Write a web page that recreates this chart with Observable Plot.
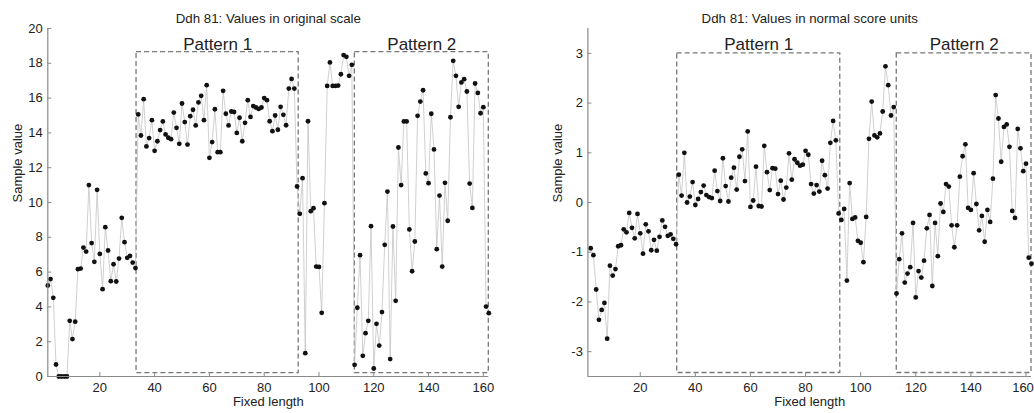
<!DOCTYPE html>
<html>
<head>
<meta charset="utf-8">
<script src="https://cdn.jsdelivr.net/npm/d3@7"></script>
<script src="https://cdn.jsdelivr.net/npm/@observablehq/plot@0.6"></script>
<style>
  body { margin: 0; background: #fff; }
  #wrap { display: flex; width: 1034px; height: 413px; }
  #wrap svg { font-family: "Liberation Sans", Arial, sans-serif; }
</style>
</head>
<body>
<div id="wrap"></div>
<script>
// ---- data ----
const originalValues = [
  5.23, 5.6, 4.52, 0.69, 0, 0, 0, 0, 3.2, 2.15,
  3.15, 6.17, 6.2, 7.41, 7.18, 11.0, 7.67, 6.59, 10.73, 7.05,
  5.02, 8.58, 7.24, 5.48, 6.45, 5.46, 6.78, 9.12, 7.72, 6.82,
  6.93, 6.55, 6.23, 15.06, 13.85, 15.94, 13.22, 13.7, 14.73, 12.97,
  13.52, 14.16, 14.66, 13.91, 13.72, 13.64, 15.17, 14.29, 13.37, 15.69,
  14.62, 13.33, 14.96, 15.33, 14.43, 15.75, 16.13, 14.73, 16.74, 12.57,
  13.47, 15.36, 12.89, 12.89, 16.42, 15.1, 14.43, 15.23, 15.2, 14.0,
  14.87, 13.52, 14.58, 15.88, 14.92, 15.54, 15.46, 15.38, 15.46, 16.0,
  15.88, 14.67, 14.1, 15.0, 14.18, 15.5, 15.04, 14.44, 16.55, 17.1,
  16.55, 10.92, 9.35, 11.4, 1.34, 14.67, 9.5, 9.67, 6.32, 6.3,
  3.66, 9.96, 16.7, 18.05, 16.7, 16.7, 16.72, 17.37, 18.47, 18.37,
  17.28, 17.91, 0.67, 3.95, 6.97, 1.19, 2.49, 3.2, 8.64, 0.46,
  3.03, 1.78, 3.7, 7.57, 10.63, 1.0, 8.62, 4.35, 13.16, 11.0,
  14.66, 14.66, 8.45, 6.05, 7.76, 14.98, 15.8, 16.45, 11.67, 11.11,
  15.1, 13.05, 7.32, 10.4, 6.32, 11.13, 8.95, 14.9, 18.14, 17.28,
  15.5, 16.9, 17.09, 16.38, 11.09, 9.69, 16.84, 16.3, 15.13, 15.48,
  4.02, 3.64
];
const originalStart = 1;

const normalScores = [
  -0.92, -1.06, -1.75, -2.36, -2.16, -2.02, -2.74, -1.27, -1.47, -1.34,
  -0.88, -0.86, -0.54, -0.6, -0.21, -0.51, -0.72, -0.23, -0.62, -1.03,
  -0.44, -0.58, -0.96, -0.75, -0.97, -0.69, -0.36, -0.49, -0.67, -0.64,
  -0.73, -0.84, 0.56, 0.14, 1.0, 0.0, 0.12, 0.41, -0.05, 0.07,
  0.21, 0.34, 0.15, 0.11, 0.09, 0.64, 0.23, 0.03, 0.89, 0.33,
  0.02, 0.5, 0.7, 0.26, 0.92, 1.07, 0.43, 1.43, -0.09, 0.04,
  0.72, -0.07, -0.08, 1.14, 0.61, 0.25, 0.69, 0.68, 0.17, 0.44,
  0.06, 0.3, 0.99,
  0.46, 0.87, 0.80, 0.74, 0.76, 1.04, 0.96, 0.37, 0.18, 0.35,
  0.22, 0.84, 0.55, 0.28, 1.2, 1.64, 1.25, -0.22, -0.35, -0.13,
  -1.57, 0.39, -0.33, -0.30, -0.77, -0.81, -1.2, -0.29, 1.28, 2.03,
  1.35, 1.31, 1.39, 1.83, 2.74, 2.36, 1.75, 1.92, -1.83, -1.14,
  -0.62, -1.61, -1.43, -1.3, -0.41, -1.91, -1.38, -1.51, -1.17, -0.52,
  -0.25, -1.68, -0.41, -1.08, -0.02, -0.19, 0.37, 0.32, -0.46, -0.9,
  -0.46, 0.52, 0.93, 1.17, -0.11, -0.15, 0.59, -0.03, -0.56, -0.27,
  -0.79, -0.15, -0.39, 0.48, 2.16, 1.69, 0.82, 1.52, 1.57, 1.12,
  -0.17, -0.31, 1.48, 1.09, 0.63, 0.78, -1.11, -1.23
];
const normalStart = 2;

const xDomain = [1, 162];
const xTicks = [20, 40, 60, 80, 100, 120, 140, 160];
const yDomainOriginal = [0, 20];
const yTicksOriginal = [0, 2, 4, 6, 8, 10, 12, 14, 16, 18, 20];
const yDomainNormal = [-3.5, 3.5];
const yTicksNormal = [-3, -2, -1, 0, 1, 2, 3];

const titles = ["Ddh 81: Values in original scale", "Ddh 81: Values in normal score units"];
const xLabel = "Fixed length";
const yLabel = "Sample value";

const patternLabels = ["Pattern 1", "Pattern 2"];
const patternX1 = [33.4, 113.1];
const patternX2 = [92.6, 162];
const patternYOriginal = [0.19, 18.64];
const patternYNormal = [-3.43, 3.0];

// ---- drawing ----
const H = 413, MT = 28, MB = 37;
const AXIS = "#8a8a8a";
const FONT = "'Liberation Sans', Arial, sans-serif";

function panel({values, start, yDomain, yTicks, boxY, title, width, marginLeft, marginRight, lastTickShift}) {
  const data = values.map((v, i) => ({x: start + i, y: v}));
  const boxes = patternLabels.map((label, i) => ({
    label, x1: patternX1[i], x2: patternX2[i], y1: boxY[0], y2: boxY[1], xc: (patternX1[i] + patternX2[i]) / 2
  }));
  const plotW = width - marginLeft - marginRight;
  const plotH = H - MT - MB;
  const innerTicks = xTicks.slice(0, -1);
  const lastTick = xTicks.slice(-1);
  return Plot.plot({
    width, height: H, marginLeft, marginRight, marginTop: MT, marginBottom: MB,
    x: {domain: xDomain},
    y: {domain: yDomain},
    style: {fontFamily: FONT, fontSize: "13px", color: "#222", background: "white", overflow: "visible"},
    marks: [
      Plot.rect(boxes, {x1: "x1", x2: "x2", y1: "y1", y2: "y2", fill: "none", stroke: "#777", strokeWidth: 1.3, strokeDasharray: "5,3"}),
      Plot.text(boxes, {x: "xc", text: "label", frameAnchor: "top", dy: 9, fontSize: 17, fill: "#222"}),
      Plot.line(data, {x: "x", y: "y", stroke: "#c4c4c4", strokeWidth: 0.8}),
      Plot.dot(data, {x: "x", y: "y", r: 2.4, fill: "#111", stroke: "none"}),
      // axis lines
      Plot.ruleX([xDomain[0]], {stroke: AXIS, strokeWidth: 1.2}),
      Plot.ruleY([yDomain[0]], {stroke: AXIS, strokeWidth: 1.2}),
      // inward ticks
      Plot.tickX(xTicks, {x: d => d, stroke: AXIS, insetTop: plotH - 4}),
      Plot.tickY(yTicks, {y: d => d, stroke: AXIS, insetRight: plotW - 4}),
      // tick labels
      Plot.axisX({ticks: innerTicks, tickSize: 0, tickPadding: 6, label: null, fill: "#222", fontSize: 13, tickFormat: d => String(d)}),
      Plot.axisX({ticks: lastTick, tickSize: 0, tickPadding: 6, label: null, fill: "#222", fontSize: 13, dx: lastTickShift, tickFormat: d => String(d)}),
      Plot.axisY({ticks: yTicks, tickSize: 0, tickPadding: 5, label: null, fill: "#222", fontSize: 13, tickFormat: d => String(d)}),
      // titles and axis labels
      Plot.text([title], {frameAnchor: "top", dy: -15, fontSize: 13.3, fill: "#222"}),
      Plot.text([xLabel], {frameAnchor: "bottom", dy: 29, fontSize: 13, fill: "#222"}),
      Plot.text([yLabel], {frameAnchor: "left", dx: -30, rotate: -90, fontSize: 13, fill: "#222"})
    ]
  });
}

const wrap = document.getElementById("wrap");
wrap.appendChild(panel({
  values: originalValues, start: originalStart, yDomain: yDomainOriginal, yTicks: yTicksOriginal,
  boxY: patternYOriginal, title: titles[0], width: 517, marginLeft: 47.3, marginRight: 28.7, lastTickShift: 0
}));
wrap.appendChild(panel({
  values: normalScores, start: normalStart, yDomain: yDomainNormal, yTicks: yTicksNormal,
  boxY: patternYNormal, title: titles[1], width: 517, marginLeft: 70.4, marginRight: 3, lastTickShift: -3
}));
</script>
</body>
</html>
